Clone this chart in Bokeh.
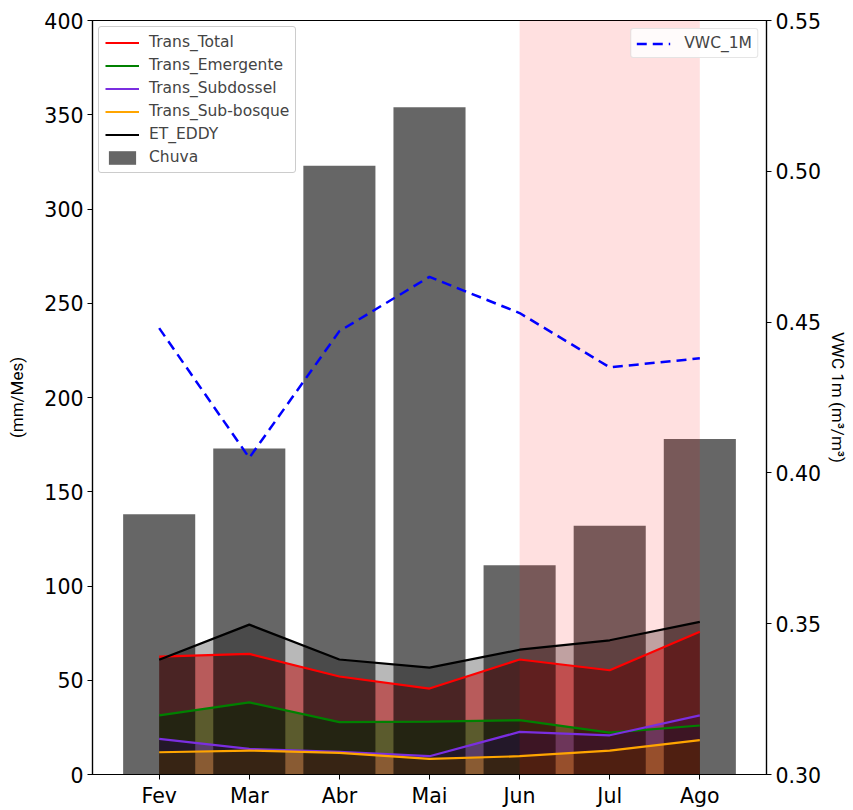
from bokeh.plotting import figure
from bokeh.models import Range1d, LinearAxis, FixedTicker, Legend, LegendItem, PrintfTickFormatter
from bokeh.embed import file_html
from bokeh.resources import INLINE

months = ["Fev", "Mar", "Abr", "Mai", "Jun", "Jul", "Ago"]
chuva = [138, 173, 323, 354, 111, 132, 178]
trans_total = [62.5, 64, 52, 45.6, 61, 55.3, 75.7]
trans_emergente = [31.4, 38.3, 27.8, 28, 28.8, 22.2, 26]
trans_subdossel = [18.9, 13.6, 12, 9.7, 22.6, 20.8, 31.4]
trans_subbosque = [11.8, 12.7, 11.5, 8.3, 9.7, 12.7, 18.2]
et_eddy = [60.9, 79.5, 61, 56.7, 66.2, 71.2, 81]
vwc_1m = [0.448, 0.405, 0.447, 0.465, 0.453, 0.435, 0.438]
left_ticks = [0, 50, 100, 150, 200, 250, 300, 350, 400]
right_ticks = [0.30, 0.35, 0.40, 0.45, 0.50, 0.55]
dry_start, dry_end = "Jun", "Ago"

x = list(range(len(months)))
FONT = "DejaVu Sans"
LABEL_FONT = "Roboto"

p = figure(width=853, height=810, output_backend="svg", toolbar_location=None,
           x_range=Range1d(-0.74, 6.74), y_range=Range1d(left_ticks[0], left_ticks[-1]),
           min_border_left=92, min_border_right=87, min_border_top=20, min_border_bottom=35)
p.extra_y_ranges = {"vwc": Range1d(right_ticks[0], right_ticks[-1])}
p.xgrid.visible = False
p.ygrid.visible = False
p.outline_line_color = "black"
p.outline_line_width = 1.2
p.background_fill_color = "white"
p.border_fill_color = "white"

series = [
    ("Trans_Total", trans_total, "red"),
    ("Trans_Emergente", trans_emergente, "green"),
    ("Trans_Subdossel", trans_subdossel, "#7a2ee0"),
    ("Trans_Sub-bosque", trans_subbosque, "orange"),
]

# filled areas
for name, ys, col in series:
    p.varea(x=x, y1=[0] * len(x), y2=ys, fill_color=col, fill_alpha=0.5)
p.varea(x=x, y1=[0] * len(x), y2=et_eddy, fill_color="black", fill_alpha=0.28)

# rain bars
bars = p.vbar(x=x, top=chuva, width=0.8, fill_color="black", fill_alpha=0.6, line_color=None)

# dry season shading
p.quad(left=[months.index(dry_start)], right=[months.index(dry_end)],
       bottom=[left_ticks[0]], top=[left_ticks[-1]], fill_color="red", fill_alpha=0.12, line_color=None)

items = []
for name, ys, col in series:
    r = p.line(x, ys, line_color=col, line_width=2.2)
    items.append(LegendItem(label=name, renderers=[r]))
r_et = p.line(x, et_eddy, line_color="black", line_width=2.2)
items.append(LegendItem(label="ET_EDDY", renderers=[r_et]))
items.append(LegendItem(label="Chuva", renderers=[bars]))

r_vwc = p.line(x, vwc_1m, line_color="blue", line_width=2.5, line_dash="10 6", y_range_name="vwc")

# axes
p.xaxis.ticker = FixedTicker(ticks=x)
p.xaxis.major_label_overrides = {i: m for i, m in enumerate(months)}
p.yaxis.ticker = FixedTicker(ticks=left_ticks)
p.yaxis.axis_label = "(mm/Mes)"

ax2 = LinearAxis(y_range_name="vwc", axis_label="VWC 1m (m\u00b3/m\u00b3)")
ax2.ticker = FixedTicker(ticks=right_ticks)
ax2.formatter = PrintfTickFormatter(format="%.2f")
p.add_layout(ax2, "right")

for ax in [p.xaxis[0], p.yaxis[0], ax2]:
    ax.major_label_text_font = FONT
    ax.major_label_text_font_size = "20.5px"
    ax.major_label_text_color = "black"
    ax.axis_line_color = "black"
    ax.axis_line_width = 1.2
    ax.major_tick_in = 0
    ax.major_tick_out = 5
    ax.major_tick_line_color = "black"
    ax.minor_tick_line_color = None
    ax.major_label_standoff = 4
    ax.axis_label_text_font = LABEL_FONT
    ax.axis_label_text_font_size = "17px"
    ax.axis_label_text_font_style = "normal"
    ax.axis_label_text_color = "black"
    ax.axis_label_standoff = 8
p.yaxis[0].axis_label_standoff = 14
ax2.axis_label_orientation = "vertical"
ax2.axis_label_standoff = 4

leg1 = Legend(items=items, location="top_left", margin=6,
              label_text_font=FONT, label_text_font_size="15.5px",
              glyph_width=34, glyph_height=17, spacing=5, padding=6, label_standoff=10,
              border_line_color="#cccccc", border_line_alpha=1, background_fill_alpha=0.85,
              border_radius=3)
leg2 = Legend(items=[LegendItem(label="VWC_1M", renderers=[r_vwc])], location="top_right", margin=8,
              label_text_font=FONT, label_text_font_size="15.5px",
              glyph_width=34, glyph_height=17, padding=5, label_standoff=14,
              border_line_color="#cccccc", background_fill_alpha=0.85, border_radius=3)
p.add_layout(leg1, "center")
p.add_layout(leg2, "center")

open("out.html", "w").write(file_html(p, INLINE))
